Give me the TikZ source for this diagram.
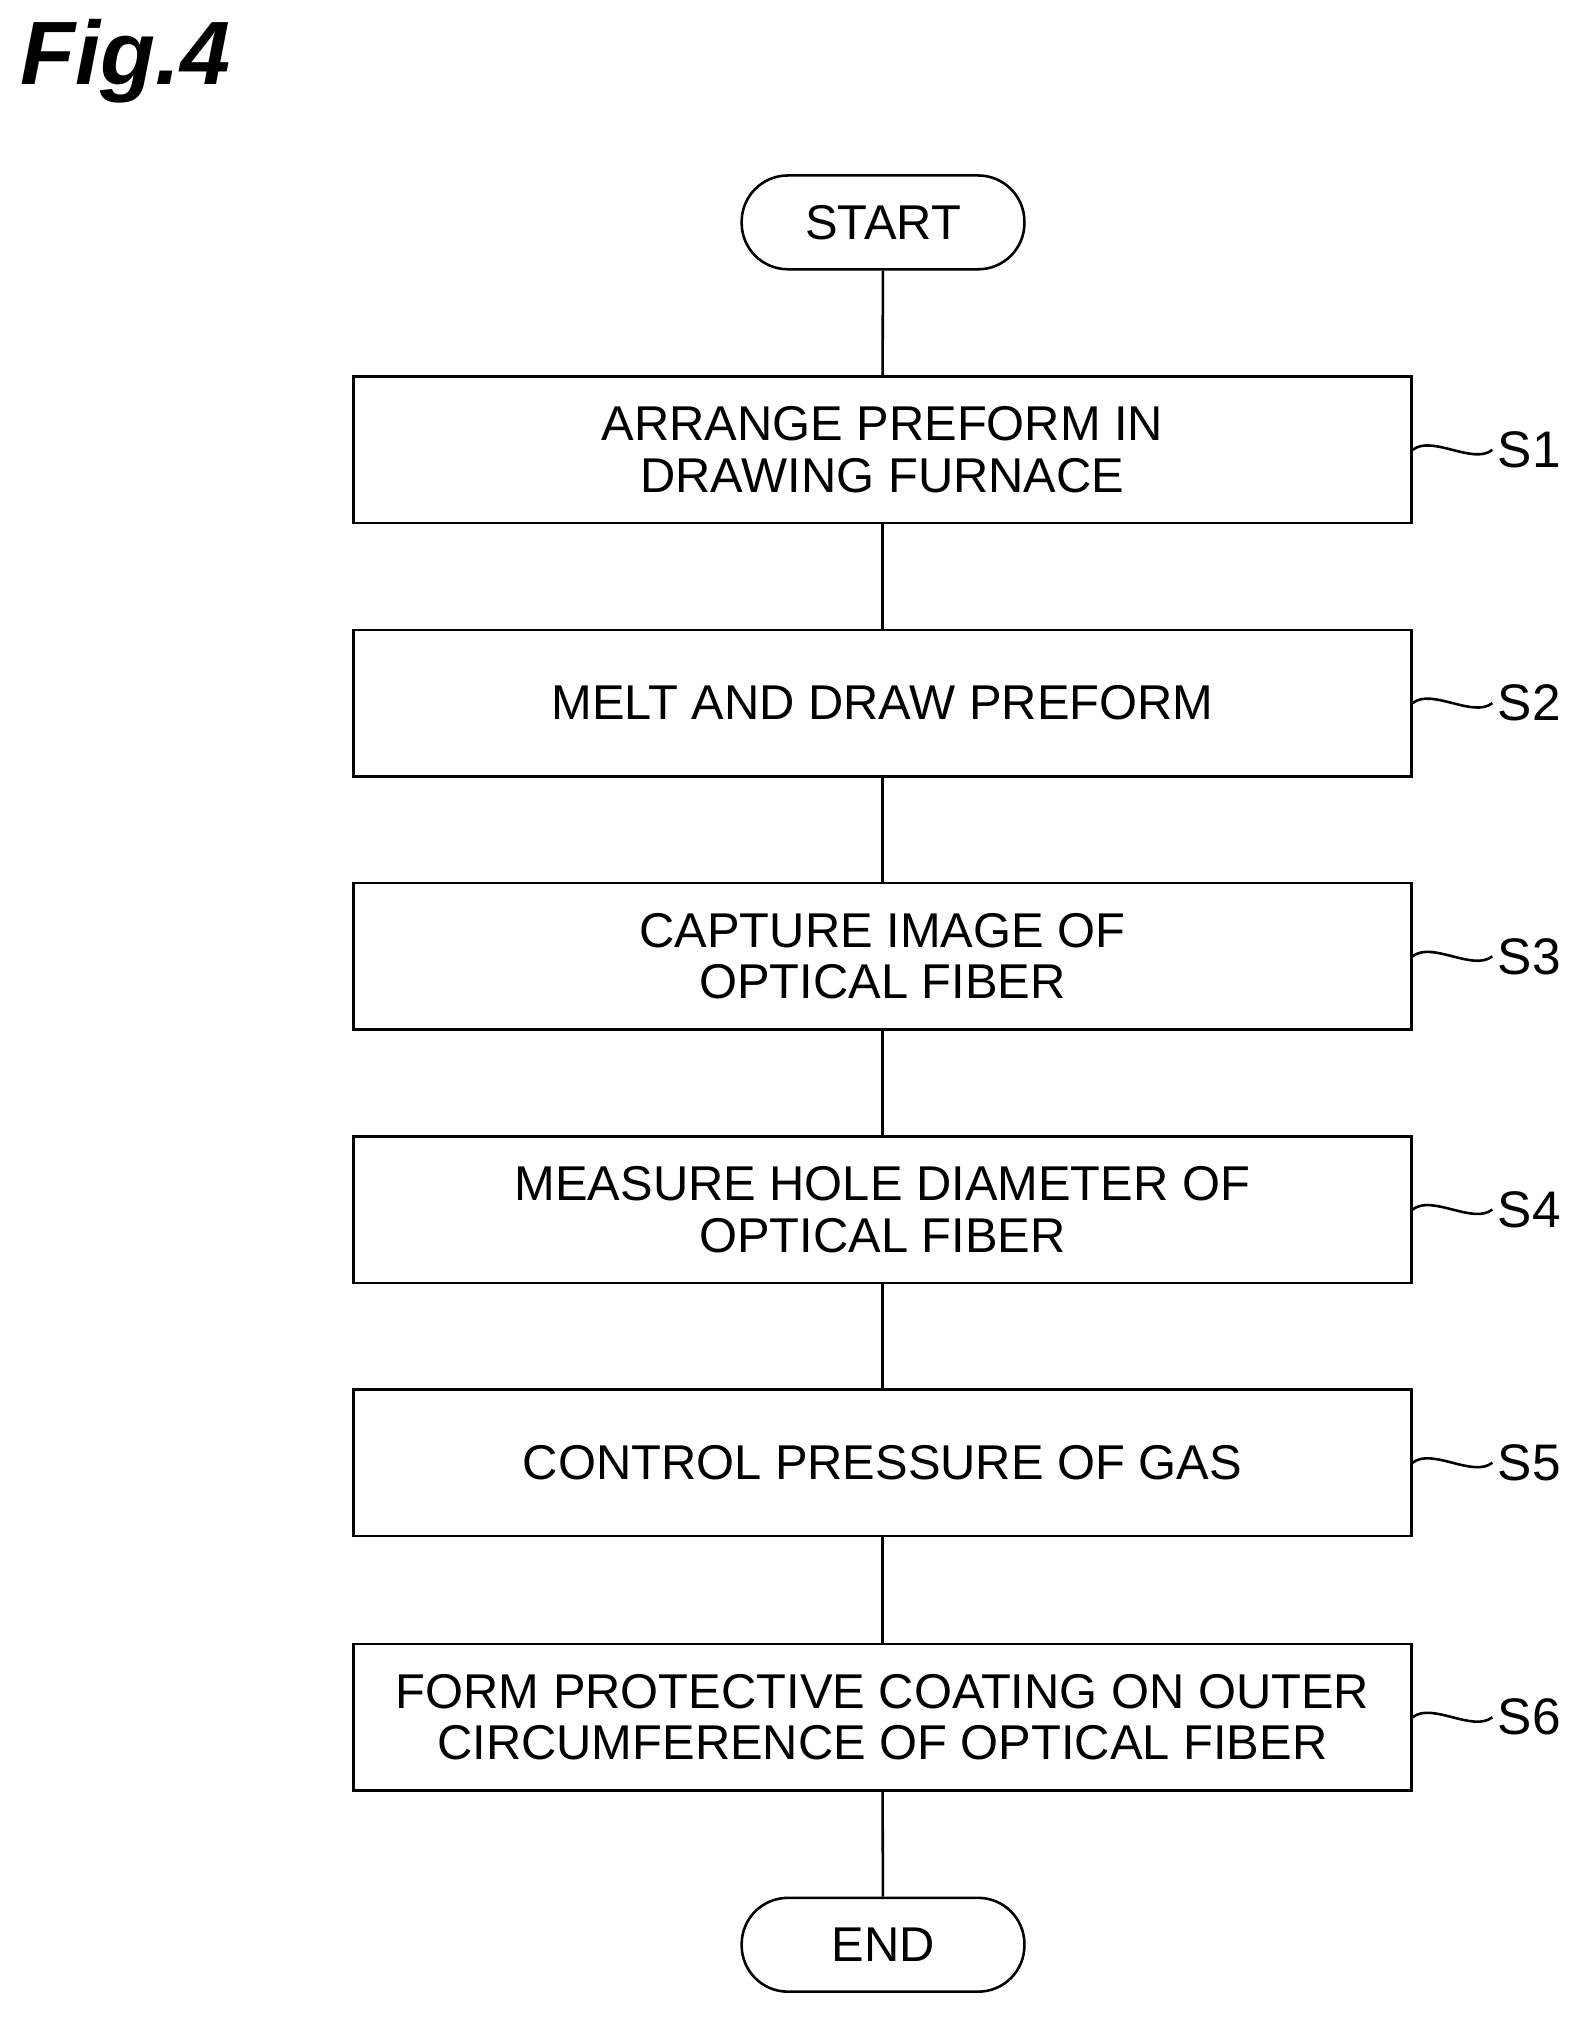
\documentclass[tikz,border=0pt]{standalone}
\usepackage{fontspec}
\setmainfont{Liberation Sans}
\usetikzlibrary{positioning}
\tikzset{every picture/.style={line width=2pt}}
\tikzset{
  stepbox/.style={draw, minimum width=823pt, minimum height=114pt, inner sep=0pt, align=center, font=\fontsize{38}{40}\selectfont},
  termbox/.style={draw, rounded corners=36pt, minimum width=220pt, minimum height=73pt, inner sep=0pt, font=\fontsize{38}{40}\selectfont},
  steplabel/.style={font=\fontsize{40}{44}\selectfont, anchor=west}
}
\begin{document}
\begin{tikzpicture}[x=1pt,y=1pt,yscale=-1]
\useasboundingbox (0,0) rectangle (1240,1577);

% title
\node [anchor=west, font=\fontsize{70}{70}\selectfont\bfseries\itshape] (fig) at (12,48) {Fig.4};

% terminals
\node [termbox] (start) at (687,173) {START};
\node [termbox] (end) at (687,1513) {END};

% process steps
\node [stepbox] (s1) at (686.5,350) {ARRANGE PREFORM IN\\DRAWING FURNACE};
\node [stepbox] (s2) at (686.5,547) {MELT AND DRAW PREFORM};
\node [stepbox] (s3) at (686.5,744) {CAPTURE IMAGE OF\\OPTICAL FIBER};
\node [stepbox] (s4) at (686.5,941) {MEASURE HOLE DIAMETER OF\\OPTICAL FIBER};
\node [stepbox] (s5) at (686.5,1138) {CONTROL PRESSURE OF GAS};
\node [stepbox] (s6) at (686.5,1336) {FORM PROTECTIVE COATING ON OUTER\\CIRCUMFERENCE OF OPTICAL FIBER};

% connectors
\draw (start) -- (s1);
\draw (s1) -- (s2);
\draw (s2) -- (s3);
\draw (s3) -- (s4);
\draw (s4) -- (s5);
\draw (s5) -- (s6);
\draw (s6) -- (end);

% step labels
\foreach \n in {1,...,6}{
  \node [steplabel] (l\n) at ([xshift=62pt]s\n.east) {S\n};
  \draw (s\n.east) .. controls +(15,-12) and +(-15,12) .. (l\n.west);
}
\end{tikzpicture}
\end{document}
